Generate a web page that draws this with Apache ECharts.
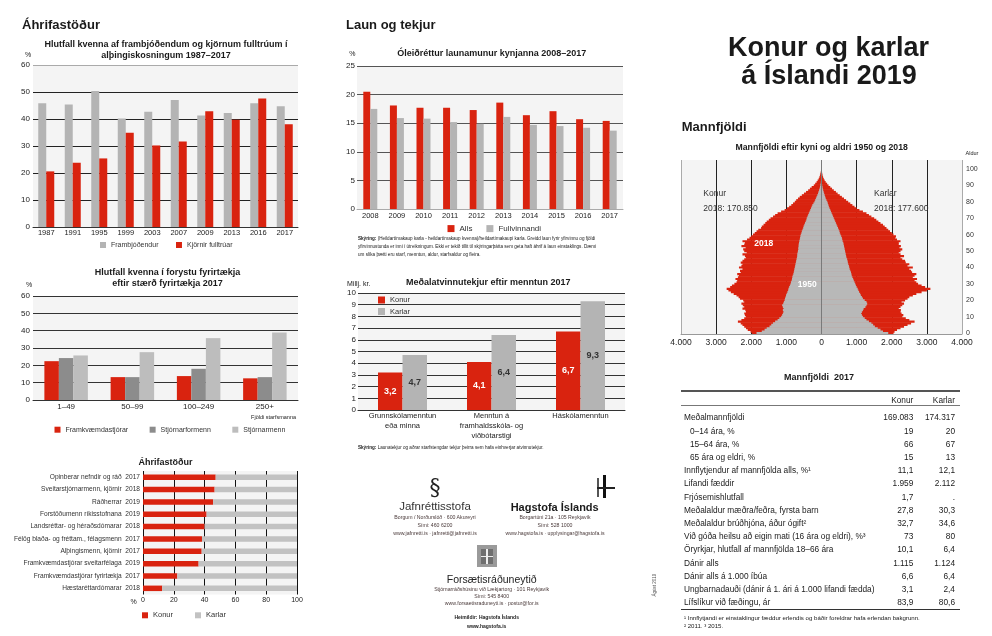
<!DOCTYPE html>
<html><head><meta charset="utf-8">
<script src="https://cdn.jsdelivr.net/npm/echarts/dist/echarts.min.js"></script>
<style>
html,body{margin:0;padding:0;background:#fff;}
#page{position:relative;width:992px;height:636px;overflow:hidden;font-family:"Liberation Sans",Arial,sans-serif;color:#1a1a1a;}
#chart{position:absolute;left:0;top:0;width:992px;height:636px;}
#txt{position:absolute;left:0;top:0;width:992px;height:636px;pointer-events:none;}
.t{position:absolute;white-space:pre;line-height:1;}
.r{position:absolute;}
</style></head><body>
<div id="page"><div id="chart"></div><div id="txt"></div></div>
<script>
// ---------- DATA ----------
const electionYears = ['1987','1991','1995','1999','2003','2007','2009','2013','2016','2017'];
const candidatesPct = [45.8,45.4,50.4,40.2,42.7,47.0,41.3,42.2,45.8,44.7];
const electedPct    = [20.6,23.8,25.4,34.9,30.2,31.7,42.9,39.7,47.6,38.1];

const companySizes = ['1–49','50–99','100–249','250+'];
const ceoPct   = [22.4,13.2,13.8,12.5];
const chairPct = [24.2,13.2,18.0,13.2];
const boardPct = [25.7,27.6,35.7,38.9];

const posNames = ['Opinberar nefndir og ráð','Sveitarstjórnarmenn, kjörnir','Ráðherrar','Forstöðumenn ríkisstofnana','Landsréttar- og héraðsdómarar','Félög blaða- og fréttam., félagsmenn','Alþingismenn, kjörnir','Framkvæmdastjórar sveitarfélaga','Framkvæmdastjórar fyrirtækja','Hæstaréttardómarar'];
const posYears = ['2017','2018','2019','2019','2018','2017','2017','2019','2017','2018'];
const posWomen = [47.2,46.5,45.5,41.3,40.0,38.3,38.1,36.1,22.3,12.5];
const posMen   = [52.8,53.5,54.5,58.7,60.0,61.7,61.9,63.9,77.7,87.5];

const payYears   = ['2008','2009','2010','2011','2012','2013','2014','2015','2016','2017'];
const payGapAll  = [20.5,18.1,17.7,17.7,17.3,18.6,16.4,17.1,15.7,15.4];
const payGapFull = [17.5,15.9,15.8,15.2,14.9,16.1,14.7,14.5,14.2,13.7];

const eduLevels   = ['Grunnskólamenntun\neða minna','Menntun á\nframhaldsskóla- og\nviðbótarstigi','Háskólamenntun'];
const incomeWomen = [3.2,4.1,6.7];
const incomeMen   = [4.7,6.4,9.3];

const women2018 = [1980,2020,2100,2150,2200,2250,2300,2380,2280,2200,
 2150,2180,2200,2150,2170,2250,2200,2240,2280,2200,
 2230,2320,2360,2420,2500,2580,2650,2700,2600,2550,
 2480,2420,2400,2450,2380,2350,2400,2300,2320,2250,
 2350,2280,2250,2300,2250,2200,2150,2180,2250,2130,
 2200,2230,2160,2280,2200,2180,2250,2120,2050,2000,
 1950,1900,1850,1800,1720,1700,1650,1600,1560,1500,
 1450,1380,1320,1250,1150,1050,980,920,860,810,
 760,720,670,620,560,500,440,380,330,280,
 220,180,140,110,80,60,45,32,22,15,
 10,6,4,3,2,1];
const men2018 = [2050,2080,2150,2250,2350,2450,2550,2650,2500,2400,
 2300,2330,2280,2250,2260,2200,2250,2300,2350,2280,
 2380,2450,2500,2600,2700,2850,3000,3100,2950,2850,
 2750,2700,2650,2720,2600,2650,2700,2580,2550,2500,
 2600,2450,2500,2400,2380,2300,2250,2350,2250,2200,
 2250,2300,2220,2260,2200,2200,2250,2150,2100,2120,
 2050,2000,1950,1900,1850,1800,1750,1680,1620,1560,
 1500,1420,1350,1280,1180,1080,1000,940,880,820,
 760,700,640,580,520,460,410,350,300,250,
 200,160,120,90,65,45,32,22,15,10,
 6,4,2,1,1,0];
const women1950 = [1850,1700,1620,1560,1480,1430,1380,1320,1250,1200,
 1150,1120,1100,1080,1100,1080,1100,1120,1090,1070,
 1050,1040,1020,1010,990,970,950,940,920,900,
 880,870,850,840,830,820,800,790,780,770,
 760,750,740,730,720,710,700,690,690,680,
 670,660,660,650,650,640,630,620,610,600,
 590,570,560,540,520,510,490,470,450,430,
 420,400,380,360,340,320,300,280,260,230,
 200,180,160,140,120,100,85,70,55,42,
 32,24,17,12,8,5,3,2,1,1,
 0,0,0,0,0,0];
const men1950 = [1900,1750,1680,1600,1520,1470,1420,1350,1280,1230,
 1180,1150,1130,1150,1180,1200,1250,1280,1300,1280,
 1230,1180,1150,1120,1100,1070,1050,1030,1000,980,
 960,940,920,900,880,860,850,840,820,800,
 790,780,760,750,740,730,710,700,690,680,
 670,660,650,640,630,620,600,590,580,560,
 540,520,510,490,470,450,430,410,390,370,
 350,330,310,290,270,250,230,210,195,180,
 165,140,120,105,90,75,60,48,37,28,
 20,14,9,6,4,2,1,1,0,0,
 0,0,0,0,0,0];
const ages = women2018.map((_, i) => String(i));

const tableLabels = ['Meðalmannfjöldi','0–14 ára, %','15–64 ára, %','65 ára og eldri, %','Innflytjendur af mannfjölda alls, %¹','Lifandi fæddir','Frjósemishlutfall','Meðalaldur mæðra/feðra, fyrsta barn','Meðalaldur brúðhjóna, áður ógift²','Við góða heilsu að eigin mati (16 ára og eldri), %³','Öryrkjar, hlutfall af mannfjölda 18–66 ára','Dánir alls','Dánir alls á 1.000 íbúa','Ungbarnadauði (dánir á 1. ári á 1.000 lifandi fædda)','Lífslíkur við fæðingu, ár'];
const tableWomen = ['169.083','19','66','15','11,1','1.959','1,7','27,8','32,7','73','10,1','1.115','6,6','3,1','83,9'];
const tableMen   = ['174.317','20','67','13','12,1','2.112','.','30,3','34,6','80','6,4','1.124','6,4','2,4','80,6'];
const tableIndented = [1,2,3];

// ---------- STYLE ----------
const RED='#d9230f', GRAY='#b4b4b4', DARK='#8c8c8c', LIGHT='#bdbdbd', BG='#f4f4f4';
const FONT='"Liberation Sans", Arial, sans-serif';
const dec = v => String(v).replace('.', ',');
const thou = v => String(Math.abs(v)).replace(/\B(?=(\d{3})+(?!\d))/g, '.');

function grid(l,t,w,h){ return {left:l, top:t, width:w, height:h, show:true, backgroundColor:BG, borderWidth:0, containLabel:false, outerBoundsMode:'none'}; }
function vAxis(gi,min,max,iv,colors,lbl){ return {gridIndex:gi, type:'value', min:min, max:max, interval:iv,
  axisLine:{show:false}, axisTick:{show:false},
  splitLine:{show:true, lineStyle:{color:colors, width:1}},
  axisLabel:Object.assign({fontSize:8, color:'#222', margin:3, fontFamily:FONT}, lbl||{})}; }
function cAxis(gi,data,lineColor,lbl){ return {gridIndex:gi, type:'category', data:data,
  axisTick:{show:false}, axisLine:{show:true, lineStyle:{color:lineColor, width:1}},
  axisLabel:Object.assign({fontSize:7.5, color:'#222', margin:3, interval:0, fontFamily:FONT}, lbl||{})}; }
function leg(l,t,items,o){ return Object.assign({left:l, top:t, orient:'horizontal', icon:'rect', itemWidth:6, itemHeight:6, itemGap:18, padding:0, selectedMode:false,
  textStyle:{fontSize:7, color:'#333', fontFamily:FONT}, data:items.map(it => ({name:it[0], itemStyle:{color:it[1]}}))}, o||{}); }

const option = {
  animation:false,
  textStyle:{fontFamily:FONT},
  grid:[ grid(33,65,265,162), grid(33,296,265,104), grid(143,471,154,123.5), grid(357,66,266,143), grid(358,293,267,117), grid(681,160,281,174) ],
  xAxis:[
    cAxis(0, electionYears, '#333', {margin:1.5}),
    cAxis(1, companySizes, '#333', {fontSize:8, margin:3}),
    {gridIndex:2, type:'value', min:0, max:100, interval:20, axisLine:{show:false}, axisTick:{show:false},
      splitLine:{show:true, lineStyle:{color:'#111', width:1}}, axisLabel:{fontSize:7, color:'#222', margin:2}},
    cAxis(3, payYears, '#aaa', {margin:3}),
    cAxis(4, eduLevels, '#333', {margin:1, lineHeight:10}),
    {gridIndex:5, type:'value', min:-4000, max:4000, interval:1000, axisTick:{show:false},
      axisLine:{show:true, lineStyle:{color:'#999', width:1}},
      splitLine:{show:true, lineStyle:{color:['#aaa','#222','#222','#222','#888','#222','#222','#222','#aaa'], width:1}},
      axisLabel:{fontSize:8.5, color:'#222', margin:4, formatter:thou}}
  ],
  yAxis:[
    vAxis(0,0,60,10,['#222','#222','#222','#222','#222','#222','#aaa']),
    vAxis(1,0,60,10,['#333']),
    {gridIndex:2, type:'category', inverse:true, data:posNames.map((n,i) => n + '  ' + posYears[i]),
      axisLine:{show:false}, axisTick:{show:false}, axisLabel:{fontSize:6.6, color:'#333', margin:3, interval:0}},
    vAxis(3,0,25,5,['#555'], {margin:2}),
    vAxis(4,0,10,1,['#333'], {margin:2}),
    {gridIndex:5, type:'category', position:'right', data:ages, axisLine:{show:false}, axisTick:{show:false},
      axisLabel:{fontSize:7, color:'#333', margin:4, interval:9}}
  ],
  legend:[
    leg(100,241.5,[['Frambjóðendur',GRAY],['Kjörnir fulltrúar',RED]], {itemGap:17.5}),
    leg(54.5,426.2,[['Framkvæmdastjórar',RED],['Stjórnarformenn',DARK],['Stjórnarmenn',LIGHT]], {itemGap:21.5}),
    leg(142,611.3,[['Konur',RED],['Karlar','#c2c2c2']], {itemGap:22, textStyle:{fontSize:7.5,color:'#333'}}),
    leg(447.5,224.6,[['Alls',RED],['Fullvinnandi',GRAY]], {itemWidth:7, itemHeight:7, itemGap:14, textStyle:{fontSize:8,color:'#333'}}),
    leg(378,296,[['Konur',RED],['Karlar',GRAY]], {orient:'vertical', itemWidth:7, itemHeight:7, itemGap:3.5, textStyle:{fontSize:7.5,color:'#333'}})
  ],
  series:[
    {type:'bar', name:'Frambjóðendur', xAxisIndex:0, yAxisIndex:0, data:candidatesPct, barWidth:8, barGap:'0%', itemStyle:{color:GRAY}},
    {type:'bar', name:'Kjörnir fulltrúar', xAxisIndex:0, yAxisIndex:0, data:electedPct, barWidth:8, barGap:'0%', itemStyle:{color:RED}},

    {type:'bar', name:'Framkvæmdastjórar', xAxisIndex:1, yAxisIndex:1, data:ceoPct, barWidth:14.5, barGap:'0%', itemStyle:{color:RED}},
    {type:'bar', name:'Stjórnarformenn', xAxisIndex:1, yAxisIndex:1, data:chairPct, barWidth:14.5, barGap:'0%', itemStyle:{color:DARK}},
    {type:'bar', name:'Stjórnarmenn', xAxisIndex:1, yAxisIndex:1, data:boardPct, barWidth:14.5, barGap:'0%', itemStyle:{color:LIGHT}},

    {type:'bar', name:'Konur', xAxisIndex:2, yAxisIndex:2, stack:'pos', data:posWomen, barWidth:5.5, itemStyle:{color:RED}},
    {type:'bar', name:'Karlar', xAxisIndex:2, yAxisIndex:2, stack:'pos', data:posMen, barWidth:5.5, itemStyle:{color:'#c2c2c2'}},

    {type:'bar', name:'Alls', xAxisIndex:3, yAxisIndex:3, data:payGapAll, barWidth:7, barGap:'0%', itemStyle:{color:RED}},
    {type:'bar', name:'Fullvinnandi', xAxisIndex:3, yAxisIndex:3, data:payGapFull, barWidth:7, barGap:'0%', itemStyle:{color:GRAY}},

    {type:'bar', name:'Konur', xAxisIndex:4, yAxisIndex:4, data:incomeWomen, barWidth:24.5, barGap:'0%', itemStyle:{color:RED},
      label:{show:true, position:'inside', formatter:p => dec(p.value), fontSize:9, fontWeight:'bold', color:'#fff'}},
    {type:'bar', name:'Karlar', xAxisIndex:4, yAxisIndex:4, data:incomeMen, barWidth:24.5, barGap:'0%', itemStyle:{color:GRAY},
      label:{show:true, position:'inside', formatter:p => dec(p.value), fontSize:9, fontWeight:'bold', color:'#333'}},

    {type:'bar', name:'Konur 2018', xAxisIndex:5, yAxisIndex:5, data:women2018.map(v => -v), barWidth:2.2, barGap:'-100%', itemStyle:{color:RED}, silent:true},
    {type:'bar', name:'Karlar 2018', xAxisIndex:5, yAxisIndex:5, data:men2018, barWidth:2.2, barGap:'-100%', itemStyle:{color:RED}, silent:true},
    {type:'bar', name:'Konur 1950', xAxisIndex:5, yAxisIndex:5, data:women1950.map(v => -v), barWidth:2.2, barGap:'-100%', itemStyle:{color:'#b8b8b8'}, silent:true},
    {type:'bar', name:'Karlar 1950', xAxisIndex:5, yAxisIndex:5, data:men1950, barWidth:2.2, barGap:'-100%', itemStyle:{color:'#b8b8b8'}, silent:true,
      markLine:{silent:true, symbol:'none', label:{show:false}, lineStyle:{color:'#7a7a7a', width:1, type:'solid'}, data:[{xAxis:0}]}}
  ]
};
const chart = echarts.init(document.getElementById('chart'));
chart.setOption(option);

// ---------- TEXT ----------
const txt = document.getElementById('txt');
function T(t,x,y,o){ o=o||{}; const d=document.createElement('div'); d.className='t'; d.innerHTML=t;
  d.style.left=x+'px'; d.style.top=y+'px'; d.style.fontSize=(o.s||8)+'px';
  if(o.w) d.style.fontWeight=o.w; if(o.c) d.style.color=o.c; if(o.f) d.style.fontFamily=o.f;
  const a=o.a||'l'; const tx=a==='c'?'-50%':a==='r'?'-100%':'0';
  d.style.transform='translate('+tx+',-50%)'+(o.rot?' rotate('+o.rot+'deg)':'');
  txt.appendChild(d); return d; }
function R(x,y,w,h,c){ const d=document.createElement('div'); d.className='r'; d.style.left=x+'px'; d.style.top=y+'px'; d.style.width=w+'px'; d.style.height=h+'px'; d.style.background=c; txt.appendChild(d); }

// left column
T('Áhrifastöður',22,24,{s:13,w:'bold'});
T('Hlutfall kvenna af frambjóðendum og kjörnum fulltrúum í',166,44,{s:9,w:'bold',a:'c'});
T('alþingiskosningum 1987–2017',166,54.5,{s:9,w:'bold',a:'c'});
T('%',25,54,{s:7});
T('Hlutfall kvenna í forystu fyrirtækja',167.5,271.7,{s:9,w:'bold',a:'c'});
T('eftir stærð fyrirtækja 2017',167.5,283.3,{s:9,w:'bold',a:'c'});
T('%',26,284,{s:7});
T('Fjöldi starfsmanna',296,418,{s:5.5,a:'r'});
T('Áhrifastöður',165.5,462,{s:9,w:'bold',a:'c'});
T('%',133.5,600.5,{s:7,a:'c'});

// middle column
T('Laun og tekjur',346,24,{s:13,w:'bold'});
T('Óleiðréttur launamunur kynjanna 2008–2017',491.7,53,{s:9,w:'bold',a:'c'});
T('%',349.3,53.3,{s:7});
T('<b>Skýring:</b> (Heildartímakaup karla - heildartímakaup kvenna)/heildartímakaupi karla. Greidd laun fyrir yfirvinnu og fjöldi',358,239.3,{s:4.6});
T('yfirvinnustunda er inni í útreikningum. Ekki er tekið tillit til skýringarþátta sem geta haft áhrif á laun einstaklings. Dæmi',358,247.3,{s:4.6});
T('um slíka þætti eru starf, menntun, aldur, starfsaldur og fleira.',358,255.3,{s:4.6});
T('Meðalatvinnutekjur eftir menntun 2017',488.3,282,{s:9,w:'bold',a:'c'});
T('Millj. kr.',347,283,{s:7});
T('<b>Skýring:</b> Launatekjur og aðrar starfstengdar tekjur þeirra sem hafa einhverjar atvinnutekjur.',358,447.7,{s:4.6});

// logos
const ADR='#4a3a3a';
T('§',435,487,{s:22,f:'DejaVu Serif',a:'c',c:'#222'});
T('Jafnréttisstofa',435,507.3,{s:11.5,a:'c',c:'#333'});
T('Borgum / Norðurslóð · 600 Akureyri',435,517.7,{s:5.2,a:'c',c:ADR});
T('Sími: 460 6200',435,525.7,{s:5.2,a:'c',c:ADR});
T('www.jafnretti.is · jafnretti@jafnretti.is',435,534,{s:5.2,a:'c',c:ADR});
R(596.7,478,2.8,19,'#555'); R(603.3,475,2.8,23,'#111'); R(596.7,486.7,18,2.3,'#222');
T('Hagstofa Íslands',554.7,507,{s:11,w:'bold',a:'c'});
T('Borgartúni 21a · 105 Reykjavík',555,517.7,{s:5.2,a:'c',c:ADR});
T('Sími: 528 1000',555,525.7,{s:5.2,a:'c',c:ADR});
T('www.hagstofa.is · upplysingar@hagstofa.is',555,534,{s:5.2,a:'c',c:ADR});
R(477,545,20,22,'#9a9a9a'); R(481,549,12,15,'#6f6f6f'); R(486.2,549,1.6,15,'#eee'); R(481,555.5,12,1.6,'#eee');
T('Forsætisráðuneytið',491.7,579.3,{s:10.5,a:'c',c:'#222'});
T('Stjórnarráðshúsinu við Lækjartorg · 101 Reykjavík',491.7,590,{s:5.2,a:'c',c:ADR});
T('Sími: 545 8400',491.7,597,{s:5.2,a:'c',c:ADR});
T('www.forsaetisraduneyti.is · postur@for.is',491.7,604.3,{s:5.2,a:'c',c:ADR});
T('Heimildir: Hagstofa Íslands',486.7,617.3,{s:5,w:'bold',a:'c'});
T('www.hagstofa.is',486.7,625.7,{s:5,w:'bold',a:'c'});
T('Ágúst 2019',655,585,{s:4.5,a:'c',rot:-90,c:'#555'});

// right column
T('Konur og karlar',828.5,46.7,{s:27,w:'bold',a:'c'});
T('á Íslandi 2019',829,75,{s:27,w:'bold',a:'c'});
T('Mannfjöldi',681.7,126,{s:13,w:'bold'});
T('Mannfjöldi eftir kyni og aldri 1950 og 2018',821.7,147.3,{s:8.7,w:'bold',a:'c'});
T('Aldur',972,154,{s:5.5,a:'c'});
T('Konur',703.3,193.3,{s:8.5,c:'#333'});
T('2018: 170.850',703.3,208.3,{s:8.5,c:'#333'});
T('Karlar',874,193.3,{s:8.5,c:'#333'});
T('2018: 177.600',874,208.3,{s:8.5,c:'#333'});
T('2018',763.8,243.3,{s:8.5,w:'bold',c:'#fff',a:'c'});
T('1950',807.2,284.3,{s:8.5,w:'bold',c:'#fff',a:'c'});

// table
T('Mannfjöldi  2017',819,376.7,{s:9,w:'bold',a:'c'});
R(680.7,390,279.3,1.5,'#555');
R(680.7,404.6,279.3,0.8,'#777');
T('Konur',913.3,400,{s:8.3,a:'r'});
T('Karlar',955,400,{s:8.3,a:'r'});
tableLabels.forEach((lab,i) => {
  const y = 417.3 + i*13.21;
  T(lab, tableIndented.indexOf(i) >= 0 ? 690 : 684, y, {s:8.3});
  T(tableWomen[i], 913.3, y, {s:8.3, a:'r'});
  T(tableMen[i], 955, y, {s:8.3, a:'r'});
});
R(680.7,609,279.3,1,'#333');
T('¹ Innflytjandi er einstaklingur fæddur erlendis og báðir foreldrar hafa erlendan bakgrunn.',684,617.7,{s:6.1});
T('² 2011. ³ 2015.',684,625.7,{s:6.1});
</script>
</body></html>
